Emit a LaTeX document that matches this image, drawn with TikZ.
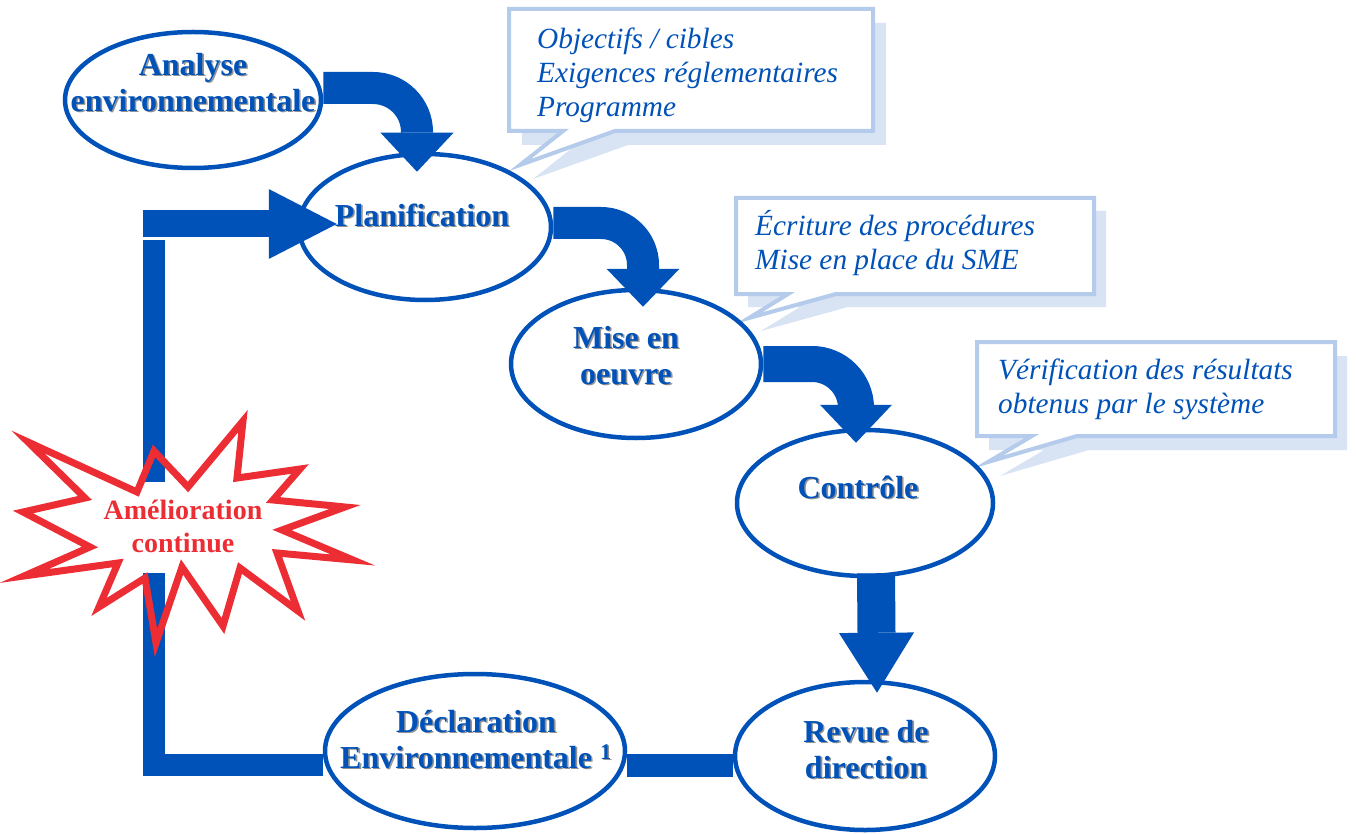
\documentclass[tikz,border=0pt]{standalone}
\usepackage{fontspec}
\setmainfont{Liberation Serif}
\usetikzlibrary{arrows.meta,shapes.geometric,positioning}
\definecolor{smeblue}{RGB}{0,82,184}
\definecolor{bulleborder}{RGB}{180,203,235}
\definecolor{bulleshadow}{RGB}{216,227,244}
\definecolor{ameliored}{RGB}{237,45,52}
\newcommand{\ombre}[1]{\leavevmode\rlap{\hspace{1.6pt}\raisebox{-1.6pt}{\color{gray!85}#1}}#1}
\tikzset{
	etape/.style = {ellipse, draw=smeblue, line width=4.5pt, inner sep=0pt},
	titre/.style = {text=smeblue, font=\fontsize{32}{36}\selectfont\bfseries, align=center, inner sep=0pt},
	bulle/.style = {fill=white, draw=bulleborder, line width=4pt, line join=miter},
	bulleombre/.style = {fill=bulleshadow},
	note/.style = {text=smeblue, font=\fontsize{29.3}{34}\selectfont\itshape, align=left, anchor=north west, inner sep=0pt},
	fleche/.style = {draw=smeblue, line width=32pt, rounded corners=44pt},
	boucle/.style = {draw=smeblue, line width=22pt},
}

\begin{document}
\begin{tikzpicture}[x=1pt, y=-1pt]
	\useasboundingbox (0,0) rectangle (1356,834);

	% bulles
	\fill[bulleombre, shift={(13,14)}] (509,9) -- (873,9) -- (873,131) -- (615,131) -- (520,165) -- (563,131) -- (509,131) -- cycle;
	\draw[bulle] (509,9) -- (873,9) -- (873,131) -- (615,131) -- (520,165) -- (563,131) -- (509,131) -- cycle;
	\fill[bulleombre, shift={(12,13)}] (736,198) -- (1094,198) -- (1094,294) -- (836,294) -- (749,318) -- (788,294) -- (736,294) -- cycle;
	\draw[bulle] (736,198) -- (1094,198) -- (1094,294) -- (836,294) -- (749,318) -- (788,294) -- (736,294) -- cycle;
	\fill[bulleombre, shift={(12,14)}] (977,342) -- (1335,342) -- (1335,436) -- (1077,436) -- (988,462) -- (1032,436) -- (977,436) -- cycle;
	\draw[bulle] (977,342) -- (1335,342) -- (1335,436) -- (1077,436) -- (988,462) -- (1032,436) -- (977,436) -- cycle;
	\node[note] (obj) at (537,28) {Objectifs / cibles\\Exigences réglementaires\\Programme};
	\node[note] (ecr) at (755,210) {Écriture des procédures\\Mise en place du SME};
	\node[note] (ver) at (998,359) {Vérification des résultats\\obtenus par le système};

	% etapes
	\node[etape, minimum width=256pt, minimum height=136pt] (ana) at (193,100) {};
	\node[etape, minimum width=252pt, minimum height=146pt] (plan) at (425,227) {};
	\node[etape, minimum width=250pt, minimum height=148pt] (mise) at (636,364) {};
	\node[etape, minimum width=256pt, minimum height=146pt] (ctrl) at (865,503) {};
	\node[etape, minimum width=260pt, minimum height=148pt] (revue) at (865,756) {};
	\node[etape, minimum width=300pt, minimum height=154pt] (decl) at (475,751) {};

	\node[titre] (tana) at ([yshift=17pt]ana) {\ombre{Analyse}\\\ombre{environnementale}};
	\node[titre] (tplan) at ([xshift=-3pt,yshift=11pt]plan) {\ombre{Planification}};
	\node[titre] (tmise) at ([xshift=-10pt,yshift=8pt]mise) {\ombre{Mise en}\\\ombre{oeuvre}};
	\node[titre] (tctrl) at ([xshift=-7pt,yshift=15pt]ctrl) {\ombre{Contrôle}};
	\node[titre] (trevue) at ([xshift=1pt,yshift=6pt]revue) {\ombre{Revue de}\\\ombre{direction}};
	\node[titre] (tdecl) at ([xshift=1pt,yshift=11pt]decl) {\ombre{Déclaration}\\\ombre{Environnementale \textsuperscript{1}}};

	% fleches
	\draw[fleche, -{Triangle[width=73pt,length=39pt,line width=0pt]}] ([yshift=12pt]ana.east) -| ([xshift=-8pt,yshift=-20pt]plan.north);
	\draw[fleche, rounded corners=42pt, -{Triangle[width=73pt,length=38pt,line width=0pt]}] ([yshift=4pt]plan.east) -| ([xshift=7pt,yshift=-19pt]mise.north);
	\draw[fleche, line width=36pt, -{Triangle[width=72pt,length=38pt,line width=0pt]}] (mise.east) -| ([xshift=-9pt,yshift=-15pt]ctrl.north);
	\draw[fleche, line width=38pt, -{Triangle[width=75pt,length=60pt,line width=0pt]}] ([xshift=11pt,yshift=5pt]ctrl.south) -- ([xshift=12pt,yshift=-13pt]revue.north);

	% boucle
	\coordinate (depart) at (143,224);
	\coordinate (haut) at (154,240);
	\coordinate (coupe1) at (154,482);
	\coordinate (coupe2) at (154,573);
	\coordinate (coin) at (154,765);
	\draw[fleche, line width=27pt, -{Triangle[width=70pt,length=68pt,line width=0pt]}] (depart) -- ([xshift=40pt,yshift=3pt]plan.west);
	\draw[boucle] (haut) -- (coupe1);
	\draw[boucle] (coupe2) -- (coin) -- ([yshift=-14pt]decl.west);
	\draw[boucle, line width=23pt] ([yshift=-14pt]decl.east) -- ([yshift=-9pt]revue.west);

	% etoile
	\draw[ameliored, line width=7pt, line join=miter] (28,442) -- (137,492) -- (154,451) -- (188,487) -- (243,421) -- (237,478) -- (300,469) -- (273,500) -- (345,507) -- (282,530) -- (353,560) -- (277,553) -- (298,611) -- (240,568) -- (223,626) -- (182,567) -- (156,643) -- (145,578) -- (99,607) -- (118,563) -- (24,576) -- (90,547) -- (23,512) -- (85,498) -- cycle;
	\node[text=ameliored, font=\fontsize{28}{33}\selectfont\bfseries, align=center, inner sep=0pt] (amel) at (183,526) {Amélioration\\continue};
\end{tikzpicture}
\end{document}
